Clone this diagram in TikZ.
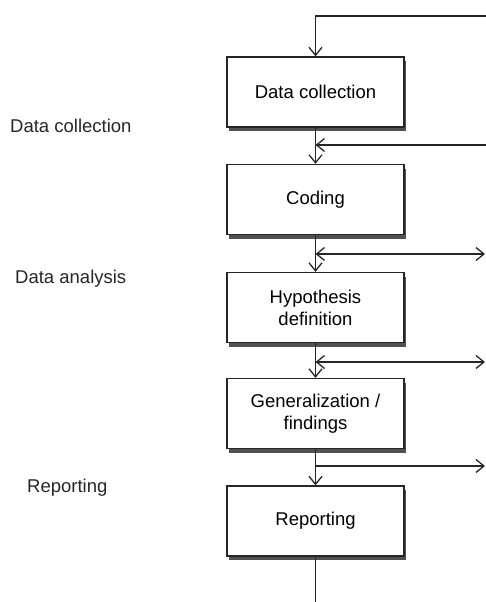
\documentclass[tikz,border=0pt]{standalone}
\usepackage{fontspec}
\setmainfont{Liberation Sans}
\usetikzlibrary{arrows.meta,shadows,positioning}
\tikzset{
  stagebox/.style={draw=black!85, line width=1.4pt, fill=white, minimum width=177pt, minimum height=70pt,
    align=center, inner sep=0pt, font=\fontsize{18.5}{22}\selectfont,
    drop shadow={shadow xshift=1.5pt, shadow yshift=-4pt, fill=black!80, opacity=0.85}},
  sidelabel/.style={anchor=base west, inner sep=0pt, font=\fontsize{18.5}{22}\selectfont, text=black!85},
  conn/.style={draw=black!85, line width=1.3pt},
  tip/.style={-{Straight Barb[length=8pt,width=13pt,line width=1.3pt]}},
  tips/.style={{Straight Barb[length=8pt,width=13pt,line width=1.3pt]}-{Straight Barb[length=8pt,width=13pt,line width=1.3pt]}}
}
\begin{document}
\begin{tikzpicture}[x=1pt,y=-1pt]
\useasboundingbox (0,0) rectangle (486,602);
% boxes
\node[stagebox] (b1) at (315.5,92) {Data collection};
\node[stagebox] (b2) at (315.5,199.5) {Coding};
\node[stagebox] (b3) at (315.5,307.5) {Hypothesis\\definition};
\node[stagebox] (b4) at (315.5,413.5) {Generalization /\\findings};
\node[stagebox] (b5) at (315.5,521) {Reporting};
% side labels
\node[sidelabel] (l1) at (10,132) {Data collection};
\node[sidelabel] (l2) at (15,283) {Data analysis};
\node[sidelabel] (l3) at (27,492) {Reporting};
% coordinates
\coordinate (t0) at (486,16);
\coordinate (c0) at (315.5,16);
\coordinate (e1) at (486,145);
\coordinate (j1) at (315.5,145);
\coordinate (e2) at (485,254);
\coordinate (j2) at (315.5,254);
\coordinate (e3) at (485,362);
\coordinate (j3) at (315.5,362);
\coordinate (e4) at (485,466);
\coordinate (j4) at (315.5,466);
\coordinate (bot) at (315.5,602);
% connectors
\draw[conn,tip] (t0) -- (c0) -- (b1.north);
\draw[conn,tip] (b1.south) -- (b2.north);
\draw[conn,tip] (e1) -- (j1);
\draw[conn,tip] (b2.south) -- (b3.north);
\draw[conn,tips] (j2) -- (e2);
\draw[conn,tip] (b3.south) -- (b4.north);
\draw[conn,tips] (j3) -- (e3);
\draw[conn,tip] (b4.south) -- (b5.north);
\draw[conn,tip] (j4) -- (e4);
\draw[conn] (b5.south) -- (bot);
\end{tikzpicture}
\end{document}
